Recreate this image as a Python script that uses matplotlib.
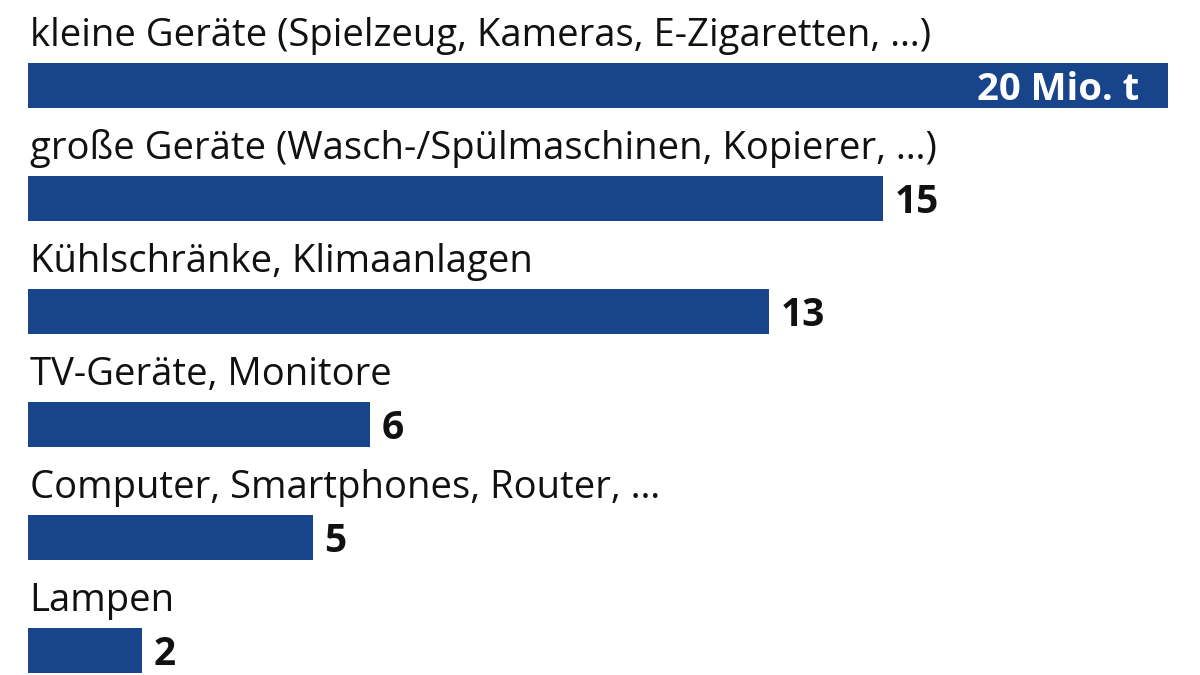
import matplotlib.pyplot as plt

# ---------------------- Data ----------------------
categories = [
    "kleine Geräte (Spielzeug, Kameras, E-Zigaretten, …)",
    "große Geräte (Wasch-/Spülmaschinen, Kopierer, …)",
    "Kühlschränke, Klimaanlagen",
    "TV-Geräte, Monitore",
    "Computer, Smartphones, Router, …",
    "Lampen",
]
values = [20, 15, 13, 6, 5, 2]
value_labels = ["20 Mio. t", "15", "13", "6", "5", "2"]

BAR_COLOR = "#17448a"
FONT = ["Open Sans", "DejaVu Sans"]

# ---------------------- Plot ----------------------
W, H = 1200, 675
fig = plt.figure(figsize=(W / 100, H / 100), dpi=100)
# axes spans bar area horizontally: x=0 at 28px, x=20 at 1168px
ax = fig.add_axes([28 / W, 0, 1140 / W, 1])
ax.set_xlim(0, 20)
pitch = 113.0  # px between bar centers
first = 85.5   # px of first bar center
ax.set_ylim((H - first) / pitch, -first / pitch)
ax.axis("off")

ys = list(range(len(values)))
ax.barh(ys, values, height=45 / pitch, color=BAR_COLOR, edgecolor="none")

for i, (cat, v, lab) in enumerate(zip(categories, values, value_labels)):
    ax.text(0.03, i - 0.35, cat, ha="left", va="baseline",
            fontsize=27.5, color="#111111", family=FONT)
    if i == 0:
        ax.text(v - 0.5, i + 0.13, lab, ha="right", va="baseline",
                fontsize=27.5, fontweight="bold", color="white", family=FONT)
    else:
        ax.text(v + 0.2, i + 0.13, lab, ha="left", va="baseline",
                fontsize=28, fontweight="bold", color="#111111", family=FONT)

fig.savefig("out.png", dpi=100)
